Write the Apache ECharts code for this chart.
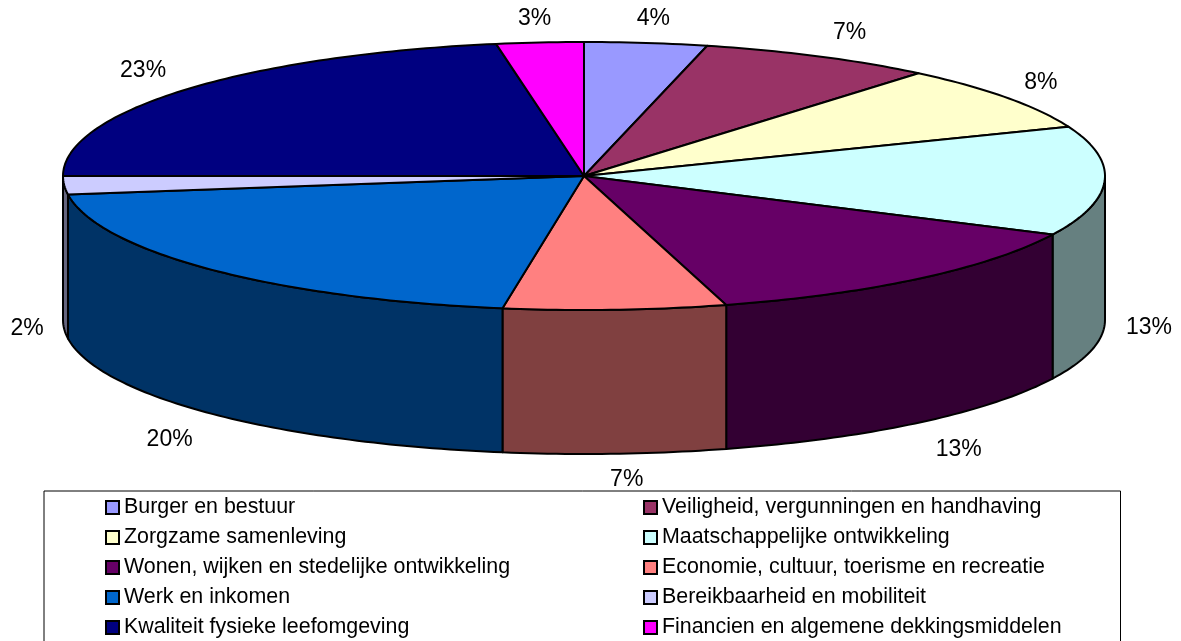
<!DOCTYPE html>
<html><head><meta charset="utf-8">
<style>html,body{margin:0;padding:0;background:#fff}#c{width:1181px;height:641px}</style>
<script src="https://cdn.jsdelivr.net/npm/echarts@6/dist/echarts.min.js"></script>
</head><body><div id="c"></div>
<script>
const categories = ['Burger en bestuur','Veiligheid, vergunningen en handhaving','Zorgzame samenleving','Maatschappelijke ontwikkeling','Wonen, wijken en stedelijke ontwikkeling','Economie, cultuur, toerisme en recreatie','Werk en inkomen','Bereikbaarheid en mobiliteit','Kwaliteit fysieke leefomgeving','Financien en algemene dekkingsmiddelen'];
const sliceShares = [3.8,7.3,7.9,13.2,13.4,6.9,20.3,2.2,22.3,2.7];
const percentLabels = ['4%','7%','8%','13%','13%','7%','20%','2%','23%','3%'];
const topColors = ['#9999FF','#993366','#FFFFCC','#CCFFFF','#660066','#FF8080','#0066CC','#CCCCFF','#000080','#FF00FF'];
const wallColors = ['#4D4D80','#4D1A33','#808066','#668080','#330033','#804040','#003366','#666680','#000040','#800080'];
const labelNudge = [[0,2],[3,-1],[-15,0],[1,1],[1,2],[8,-7],[1,3],[0,-3],[4,-2],[0,2]];

const CX=584, CY=176, RX=521, RY=134, DEPTH=144;
const toRad = Math.PI/180;
const pt = (deg,dy)=>[CX+RX*Math.sin(deg*toRad), CY-RY*Math.cos(deg*toRad)+dy];
function arc(a,b,dy){const out=[];const n=Math.max(2,Math.ceil(Math.abs(b-a)));
  for(let i=0;i<=n;i++)out.push(pt(a+(b-a)*i/n,dy));return out;}
const total = sliceShares.reduce((s,v)=>s+v,0);
let run=0;
const starts = sliceShares.map(v=>{const s=run;run+=v;return s;});

function makeRender(idx){
  return function(params,api){
    const a=api.value(0)/total*360, b=(api.value(0)+api.value(1))/total*360;
    const children=[];
    const w0=Math.max(a,90), w1=Math.min(b,270);
    const line={stroke:'#000',lineWidth:2,lineJoin:'round'};
    if(w1>w0){
      const pts=arc(w0,w1,0).concat(arc(w1,w0,DEPTH));
      children.push({type:'polygon',shape:{points:pts},style:Object.assign({fill:wallColors[idx]},line)});
    }
    const top=[[CX,CY]].concat(arc(a,b,0));
    children.push({type:'polygon',shape:{points:top},style:Object.assign({fill:topColors[idx]},line)});
    const mid=(a+b)/2, s=Math.sin(mid*toRad), c=Math.cos(mid*toRad), front=c<0.1;
    let lx=CX+582*s;
    lx=Math.max(27,Math.min(1148,lx));
    const ly=front?CY+DEPTH-167*c:CY-160*c;
    children.push({type:'text',z2:5,style:{text:percentLabels[idx],x:lx+labelNudge[idx][0],y:ly+labelNudge[idx][1],fill:'#000',align:'center',verticalAlign:'middle',font:'23px "Liberation Sans"'}});
    return {type:'group',children};
  };
}
const series=categories.map((name,i)=>({
  type:'custom',name,coordinateSystem:'none',silent:true,animation:false,
  z:2,itemStyle:{color:topColors[i],borderColor:'#000',borderWidth:2},
  data:[[starts[i],sliceShares[i]]],
  renderItem:makeRender(i)
}));
const legendBase={orient:'vertical',top:497,height:200,padding:0,itemWidth:13,itemHeight:13,itemGap:9,icon:'rect',selectedMode:false,
  textStyle:{color:'#000',fontFamily:'Liberation Sans',fontSize:21.4,lineHeight:21},
  itemStyle:{borderColor:'#000',borderWidth:2}};
const chart=echarts.init(document.getElementById('c'),null,{renderer:'canvas'});
chart.setOption({
  animation:false,backgroundColor:'#fff',
  graphic:[{type:'rect',z:0,shape:{x:44,y:491,width:1076.5,height:170},style:{fill:'#fff',stroke:'#000',lineWidth:1}}],
  legend:[
    Object.assign({},legendBase,{left:105,data:categories.filter((_,i)=>i%2===0)}),
    Object.assign({},legendBase,{left:643,data:categories.filter((_,i)=>i%2===1)})
  ],
  series
});
</script></body></html>
